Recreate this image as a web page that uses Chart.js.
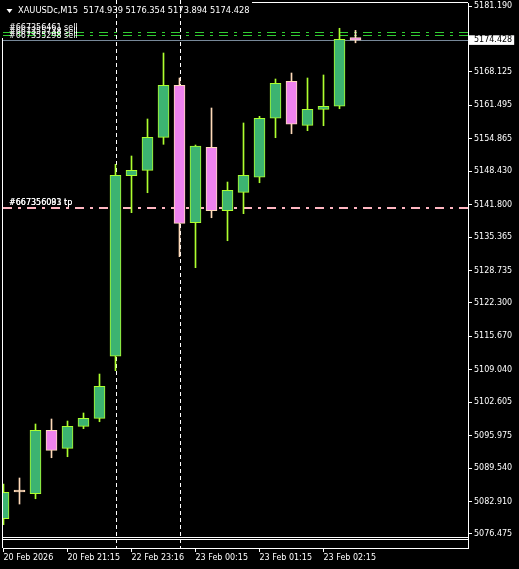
<!DOCTYPE html>
<html>
<head>
<meta charset="utf-8">
<title>XAUUSDc,M15</title>
<script src="https://cdn.jsdelivr.net/npm/chart.js"></script>
<style>
  html, body { margin: 0; padding: 0; background: #000; }
  canvas { display: block; }
</style>
</head>
<body>
<canvas id="chart" width="519" height="569"></canvas>
<script>
// M15 candles
const opens  = [5079.51, 5084.80, 5084.46, 5097.04, 5093.47, 5097.83, 5099.42, 5111.72, 5147.53, 5148.60, 5155.15, 5165.46,
                5138.21, 5153.17, 5140.59, 5144.24, 5147.22, 5158.92, 5166.26, 5157.53, 5160.70, 5161.30, 5174.939];
const highs  = [5086.39, 5087.58, 5098.29, 5099.28, 5098.88, 5100.47, 5108.20, 5149.79, 5151.44, 5158.78, 5171.87, 5166.91,
                5153.62, 5160.96, 5146.28, 5157.99, 5159.31, 5166.71, 5167.90, 5166.91, 5167.51, 5176.77, 5176.354];
const lows   = [5078.32, 5082.42, 5083.47, 5091.60, 5091.80, 5097.36, 5098.74, 5108.86, 5140.20, 5144.16, 5153.76, 5131.47,
                5129.29, 5139.20, 5134.64, 5140.00, 5146.14, 5155.07, 5155.86, 5156.46, 5157.45, 5160.82, 5173.894];
const closes = [5084.74, 5084.80, 5097.04, 5093.07, 5097.83, 5099.42, 5105.76, 5147.61, 5148.60, 5155.15, 5165.46, 5138.09,
                5153.42, 5140.59, 5144.64, 5147.61, 5158.92, 5165.86, 5157.73, 5160.70, 5161.30, 5174.59, 5174.428];

const timeTicks  = [0, 4, 8, 12, 16, 20];
const timeLabels = ['20 Feb 2026', '20 Feb 21:15', '22 Feb 23:16', '23 Feb 00:15', '23 Feb 01:15', '23 Feb 02:15'];
const priceTicks = [5181.190, 5168.125, 5161.495, 5154.865, 5148.430, 5141.800, 5135.365, 5128.735,
                    5122.300, 5115.670, 5109.040, 5102.605, 5095.975, 5089.540, 5082.910, 5076.475];
const lastPrice = 5174.428;

// trade lines
const sellLevels = [5176.07, 5175.38, 5174.45];
const sellLabels = ['#667356461 sell', '#667355738 sell', '#667355298 sell'];
const tpLevels   = [5141.27, 5141.27];
const tpLabels   = ['#667356081 tp', '#667356093 tp'];
const separators = [7, 11];

const header = 'XAUUSDc,M15  5174.939 5176.354 5173.894 5174.428';

const BULL_FILL = '#3CB371', BULL_LINE = '#ADFF2F';
const BEAR_FILL = '#EE82EE', BEAR_LINE = '#FFDAB9';
const FONT = '"DejaVu Sans", sans-serif';

function isBull(i) { return closes[i] > opens[i]; }

const mtOverlay = {
    id: 'mtOverlay',
    beforeDatasetsDraw(chart) {
        const { ctx, chartArea: a, scales: { x, y } } = chart;
        ctx.save();

        // window frame + empty sub window
        ctx.strokeStyle = '#fff';
        ctx.lineWidth = 1;
        ctx.beginPath();
        ctx.moveTo(252, 2.5); ctx.lineTo(a.right, 2.5);
        ctx.moveTo(2.5, 38); ctx.lineTo(2.5, a.bottom);
        ctx.moveTo(2.5, 537.5); ctx.lineTo(a.right, 537.5);
        ctx.moveTo(2.5, 539.5); ctx.lineTo(a.right, 539.5);
        ctx.stroke();

        // order lines
        ctx.setLineDash([9, 6, 3, 6]);
        ctx.strokeStyle = '#32CD32';
        sellLevels.forEach(p => {
            const py = Math.round(y.getPixelForValue(p)) + 0.5;
            ctx.beginPath(); ctx.moveTo(a.left, py); ctx.lineTo(a.right, py); ctx.stroke();
        });
        ctx.strokeStyle = '#FFB6C1';
        ctx.lineWidth = 2;
        tpLevels.forEach(p => {
            const py = Math.round(y.getPixelForValue(p)) + 1;
            ctx.beginPath(); ctx.moveTo(a.left, py); ctx.lineTo(a.right, py); ctx.stroke();
        });
        ctx.lineWidth = 1;
        ctx.setLineDash([]);

        // bid line
        ctx.strokeStyle = '#778899';
        const by = Math.round(y.getPixelForValue(lastPrice)) + 0.5;
        ctx.beginPath(); ctx.moveTo(a.left, by); ctx.lineTo(a.right, by); ctx.stroke();

        // header
        ctx.fillStyle = '#fff';
        ctx.beginPath();
        ctx.moveTo(6.5, 9); ctx.lineTo(12.5, 9); ctx.lineTo(9.5, 13); ctx.closePath();
        ctx.fill();
        ctx.font = '8.3px ' + FONT;
        ctx.textBaseline = 'middle';
        ctx.fillText(header, 18, 10.5);

        // order labels
        ctx.font = '8px ' + FONT;
        ctx.textBaseline = 'alphabetic';
        sellLevels.forEach((p, i) => {
            ctx.fillText(sellLabels[i], 9, y.getPixelForValue(p) - 1.5);
        });
        tpLevels.forEach((p, i) => {
            ctx.fillText(tpLabels[i], 9, y.getPixelForValue(p) - 2);
        });

        // separators
        ctx.strokeStyle = '#fff';
        ctx.setLineDash([4, 3]);
        separators.forEach(k => {
            const px = Math.round(x.getPixelForValue(k)) + 0.5;
            ctx.beginPath(); ctx.moveTo(px, 0); ctx.lineTo(px, a.bottom); ctx.stroke();
        });
        ctx.restore();
    }
};

const ctx = document.getElementById('chart').getContext('2d');
new Chart(ctx, {
    type: 'bar',
    data: {
        datasets: [{
            label: 'wicks',
            data: opens.map((o, i) => ({ x: i, y: [lows[i], highs[i]] })),
            barThickness: 1,
            borderWidth: 0,
            backgroundColor: c => isBull(c.dataIndex) ? BULL_LINE : BEAR_LINE,
            grouped: false,
            order: 2
        }, {
            label: 'bodies',
            data: opens.map((o, i) => ({ x: i, y: [o, closes[i]] })),
            barThickness: 11,
            borderWidth: 1,
            borderSkipped: false,
            minBarLength: 2,
            backgroundColor: c => {
                const i = c.dataIndex;
                if (opens[i] === closes[i]) return BEAR_LINE;
                return isBull(i) ? BULL_FILL : BEAR_FILL;
            },
            borderColor: c => isBull(c.dataIndex) ? BULL_LINE : BEAR_LINE,
            grouped: false,
            order: 1
        }]
    },
    options: {
        responsive: false,
        animation: false,
        layout: { padding: { left: 3, top: 3, right: 0, bottom: 0 } },
        plugins: { legend: { display: false }, tooltip: { enabled: false } },
        scales: {
            x: {
                type: 'linear',
                position: 'bottom',
                offset: false,
                min: -0.03125,
                max: 29.03125,
                afterBuildTicks: s => { s.ticks = timeTicks.map(v => ({ value: v })); },
                afterFit: s => { s.height = 21; s.paddingLeft = 0; s.paddingRight = 0; },
                ticks: {
                    autoSkip: false,
                    maxRotation: 0,
                    align: 'start',
                    padding: 1,
                    color: '#fff',
                    font: { family: FONT, size: 8 },
                    callback: v => timeLabels[timeTicks.indexOf(v)]
                },
                grid: { offset: false, drawOnChartArea: false, tickLength: 4, tickColor: '#fff' },
                border: { color: '#fff', width: 1 }
            },
            y: {
                type: 'linear',
                position: 'right',
                min: 5073.698,
                max: 5181.785,
                afterBuildTicks: s => {
                    s.ticks = priceTicks.concat([lastPrice]).sort((a, b) => a - b).map(v => ({ value: v }));
                },
                afterFit: s => { s.width = 51; s.paddingTop = 0; s.paddingBottom = 0; },
                ticks: {
                    autoSkip: false,
                    padding: 2,
                    font: { family: FONT, size: 8 },
                    color: c => c.tick && c.tick.value === lastPrice ? '#000' : '#fff',
                    showLabelBackdrop: true,
                    backdropColor: c => c.tick && c.tick.value === lastPrice ? '#fff' : 'rgba(0,0,0,0)',
                    backdropPadding: { left: 5, right: 2, top: 0, bottom: 0 },
                    callback: v => v.toFixed(3)
                },
                grid: { drawOnChartArea: false, tickLength: 4, tickColor: '#fff' },
                border: { color: '#fff', width: 1 }
            }
        }
    },
    plugins: [mtOverlay]
});
</script>
</body>
</html>
